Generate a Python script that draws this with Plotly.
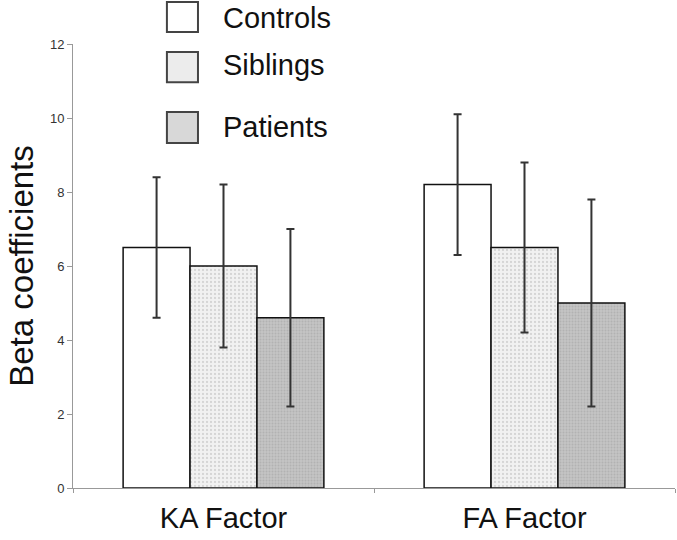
import plotly.graph_objects as go

categories = ["KA Factor", "FA Factor"]
groups = ["Controls", "Siblings", "Patients"]
controls = [6.5, 8.2]
controls_err = [1.9, 1.9]
siblings = [6.0, 6.5]
siblings_err = [2.2, 2.3]
patients = [4.6, 5.0]
patients_err = [2.4, 2.8]
y_ticks = [0, 2, 4, 6, 8, 10, 12]

FONT = "Liberation Sans, Arial, sans-serif"

series = [
    (groups[0], controls, controls_err, dict(color="white", pattern=dict(shape=""))),
    (groups[1], siblings, siblings_err, dict(color="#f1f1f1",
        pattern=dict(shape=".", fgcolor="#b8b8b8", bgcolor="#f1f1f1", size=4, solidity=0.25))),
    (groups[2], patients, patients_err, dict(color="#c4c4c4",
        pattern=dict(shape=".", fgcolor="#a0a0a0", bgcolor="#c4c4c4", size=3, solidity=0.35))),
]

fig = go.Figure()
for name, vals, errs, mk in series:
    fig.add_trace(go.Bar(
        x=categories, y=vals, name=name,
        marker=dict(line=dict(color="#111111", width=1.5), **mk),
        error_y=dict(type="data", array=errs, visible=True, color="#333333",
                     thickness=2, width=4),
        showlegend=False,
    ))

fig.update_layout(
    width=677, height=540,
    margin=dict(l=73, r=2, t=44, b=52, autoexpand=False),
    paper_bgcolor="white", plot_bgcolor="white",
    barmode="group", bargap=0.333, bargroupgap=0,
    font=dict(family=FONT, color="#111111"),
    xaxis=dict(
        showline=True, linecolor="#999999", linewidth=1,
        ticks="outside", tickson="boundaries", ticklen=4, tickcolor="#999999",
        tickfont=dict(size=29, color="#111111"), showgrid=False,
        ticklabelstandoff=4, automargin=False,
    ),
    yaxis=dict(
        range=[0, 12], tickvals=y_ticks, ticktext=[str(v) for v in y_ticks],
        showline=True, linecolor="#999999", linewidth=1,
        ticks="outside", ticklen=5, tickcolor="#999999",
        tickfont=dict(size=13, color="#333333"), showgrid=False, zeroline=False,
        title=dict(text="Beta coefficients", font=dict(size=33, color="#111111"), standoff=6),
        automargin=False,
    ),
)

# legend drawn as boxes + labels in paper coordinates
legend_boxes = [
    (groups[0], "white", 1.0946, 1.0270, 1.059),
    (groups[1], "#ececec", 0.982, 0.914, 0.952),
    (groups[2], "#d8d8d8", 0.847, 0.777, 0.814),
]
for name, fill, y0, y1, yt in legend_boxes:
    fig.add_shape(type="rect", xref="paper", yref="paper",
                  x0=0.156, x1=0.2076, y0=y1, y1=y0,
                  fillcolor=fill, line=dict(color="#444444", width=2))
    fig.add_annotation(xref="paper", yref="paper", x=0.2458, y=yt,
                       text=name, showarrow=False, xanchor="left", yanchor="middle",
                       font=dict(size=29, color="#111111", family=FONT))

# remove the browser's default 8px body margin so the figure sits at the page corner
fig.write_html("out.html", config={"displayModeBar": False},
               post_script="document.body.style.margin='0';")
